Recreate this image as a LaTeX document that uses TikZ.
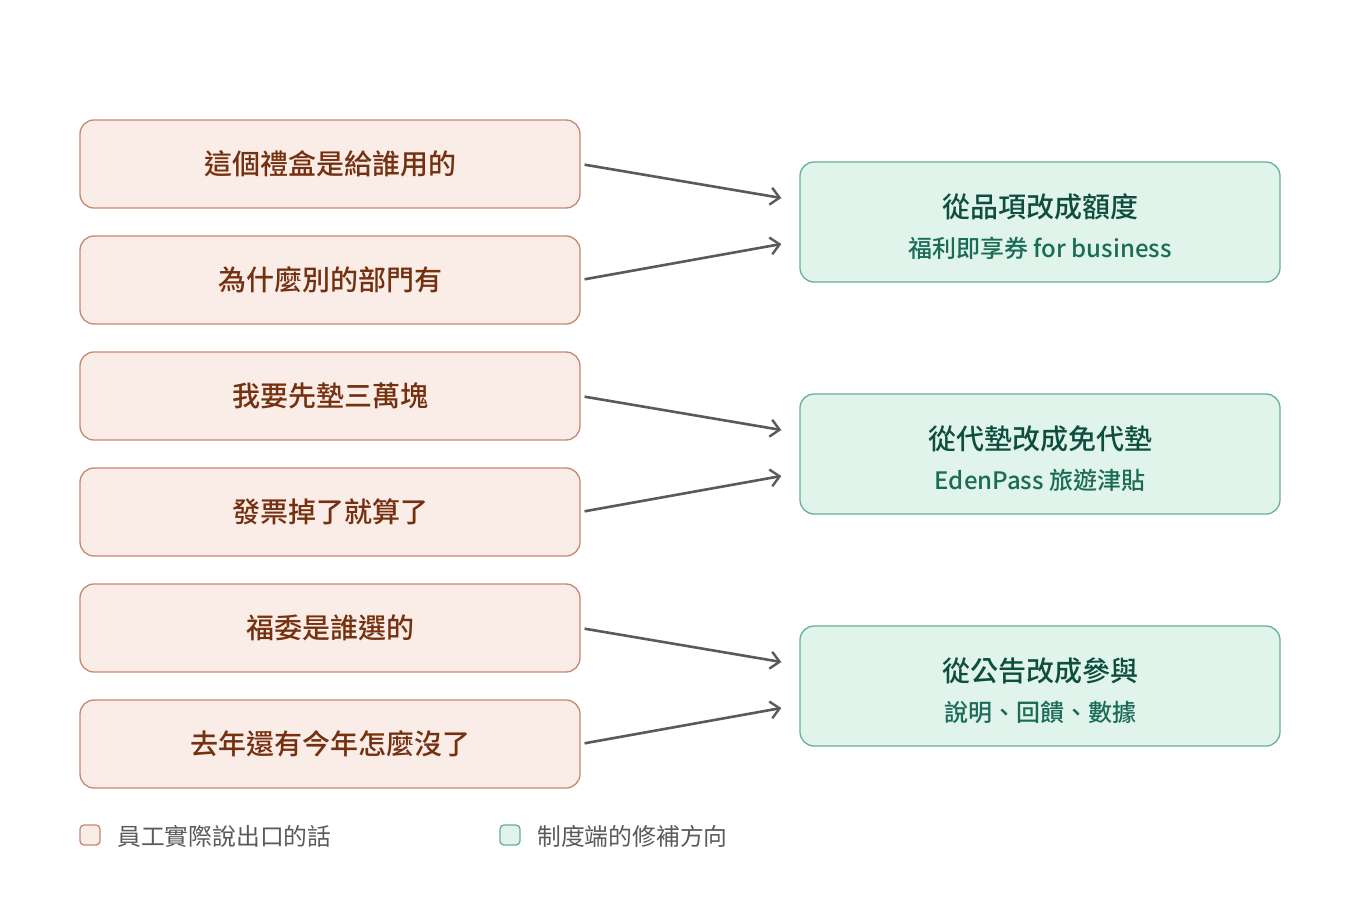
\documentclass[tikz,border=0pt]{standalone}
\usepackage{fontspec}
\setmainfont{Noto Sans CJK TC}[BoldFont={Noto Sans CJK TC Bold}]
\newfontfamily\medfont{Noto Sans CJK TC Medium}
\usetikzlibrary{arrows.meta,calc}
\definecolor{lfill}{HTML}{FAECE7}
\definecolor{ldraw}{HTML}{C98672}
\definecolor{ltext}{HTML}{74300F}
\definecolor{rfill}{HTML}{E1F4EC}
\definecolor{rdraw}{HTML}{6BAE97}
\definecolor{rtitle}{HTML}{0E4E3E}
\definecolor{rsub}{HTML}{1A6C57}
\definecolor{arr}{HTML}{5A5A5A}
\definecolor{legtext}{HTML}{5A5A5A}
\begin{document}
\begin{tikzpicture}[x=1pt,y=-1pt,
  lbox/.style={draw=ldraw,fill=lfill,line width=1.3pt,rounded corners=14pt,minimum width=500pt,minimum height=88pt,inner sep=0pt,text=ltext,font=\fontsize{28}{33}\medfont},
  rbox/.style={draw=rdraw,fill=rfill,line width=1.3pt,rounded corners=14pt,minimum width=480pt,minimum height=120pt,inner sep=0pt},
  ttl/.style={text=rtitle,font=\fontsize{28}{34}\medfont,inner sep=0pt},
  sub/.style={text=rsub,font=\fontsize{24}{29}\medfont,inner sep=0pt},
  conn/.style={draw=arr,line width=2.6pt,-{Straight Barb[length=9pt,width=17pt,line width=2.4pt]},shorten <=4pt},
  legbox/.style={line width=1.3pt,rounded corners=4pt,minimum width=20pt,minimum height=20pt,inner sep=0pt},
  legt/.style={text=legtext,font=\fontsize{23.8}{28}\selectfont,anchor=west,inner sep=0pt}]
\useasboundingbox (0,0) rectangle (1360,920);
\fill[white] (0,0) rectangle (1360,920);
\node[lbox] (l1) at (330,164) {這個禮盒是給誰用的};
\node[lbox] (l2) at (330,280) {為什麼別的部門有};
\node[lbox] (l3) at (330,396) {我要先墊三萬塊};
\node[lbox] (l4) at (330,512) {發票掉了就算了};
\node[lbox] (l5) at (330,628) {福委是誰選的};
\node[lbox] (l6) at (330,744) {去年還有今年怎麼沒了};
\node[rbox] (r1) at (1040,222) {};
\node[rbox] (r2) at (1040,454) {};
\node[rbox] (r3) at (1040,686) {};
\node[ttl] (t1) at (1040,207) {從品項改成額度};
\node[sub] (s1) at (1040,248) {福利即享券 for business};
\node[ttl] (t2) at (1040,439) {從代墊改成免代墊};
\node[sub] (s2) at (1040,480) {EdenPass 旅遊津貼};
\node[ttl] (t3) at (1040,671) {從公告改成參與};
\node[sub] (s3) at (1040,712) {說明、回饋、數據};
\coordinate (a1) at ($(r1.west)+(-18,-24)$);
\coordinate (b1) at ($(r1.west)+(-18,22)$);
\coordinate (a2) at ($(r2.west)+(-18,-24)$);
\coordinate (b2) at ($(r2.west)+(-18,22)$);
\coordinate (a3) at ($(r3.west)+(-18,-24)$);
\coordinate (b3) at ($(r3.west)+(-18,22)$);
\draw[conn] (l1.east) -- (a1);
\draw[conn] (l2.east) -- (b1);
\draw[conn] (l3.east) -- (a2);
\draw[conn] (l4.east) -- (b2);
\draw[conn] (l5.east) -- (a3);
\draw[conn] (l6.east) -- (b3);
\node[legbox,draw=ldraw,fill=lfill] (k1) at (90,835) {};
\node[legt] (k1t) at (117,836) {員工實際說出口的話};
\node[legbox,draw=rdraw,fill=rfill] (k2) at (510,835) {};
\node[legt] (k2t) at (537,836) {制度端的修補方向};
\end{tikzpicture}
\end{document}
